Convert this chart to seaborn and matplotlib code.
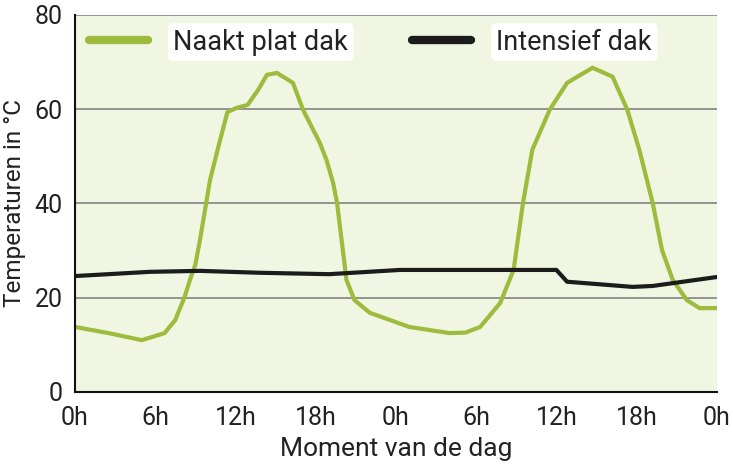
import matplotlib
matplotlib.use("Agg")
import matplotlib.pyplot as plt
import seaborn as sns
import numpy as np
import pandas as pd

# green curve: bare flat roof (hours, degC)
naakt_uur = [0, 2.5, 5.0, 6.7, 7.5, 8.2, 8.6, 9.0, 9.35, 10.1, 10.8, 11.4, 12.1, 12.9,
             13.7, 14.35, 15.1, 16.3, 17.05, 18.3, 18.8, 19.3, 19.6, 20.0, 20.3, 20.9,
             22.05, 25.0, 28.0, 29.2, 30.3, 31.8, 32.8, 33.5, 34.2, 35.5, 36.8, 38.7,
             40.2, 41.3, 42.2, 43.2, 43.9, 44.7, 45.75, 46.7, 48.0]
naakt_temp = [13.8, 12.5, 11.0, 12.5, 15.3, 20.2, 23.8, 27.0, 32.3, 45.0, 52.9, 59.4, 60.3, 60.9,
              64.1, 67.3, 67.7, 65.6, 59.9, 52.9, 49.3, 44.4, 40.1, 30.8, 23.8, 19.5,
              16.8, 13.8, 12.5, 12.6, 13.8, 18.9, 25.9, 40.1, 51.4, 59.9, 65.6, 68.8,
              66.9, 59.9, 51.4, 40.1, 30.1, 23.8, 19.5, 17.8, 17.8]

# black curve: intensive green roof
intensief_uur = [0, 5.6, 9.35, 13.8, 19.0, 24.3, 30.3, 36.0, 36.8, 41.7, 43.2, 48.0]
intensief_temp = [24.6, 25.5, 25.7, 25.3, 25.0, 25.9, 25.9, 25.9, 23.4, 22.3, 22.5, 24.4]

tick_pos = [0, 6, 12, 18, 24, 30, 36, 42, 48]
tick_labels = ["0h", "6h", "12h", "18h", "0h", "6h", "12h", "18h", "0h"]

df = pd.concat([
    pd.DataFrame({"uur": naakt_uur, "temp": naakt_temp, "serie": "Naakt plat dak"}),
    pd.DataFrame({"uur": intensief_uur, "temp": intensief_temp, "serie": "Intensief dak"}),
])

sns.set_style("white")
plt.rcParams["font.family"] = ["Roboto", "DejaVu Sans"]

fig = plt.figure(figsize=(7.33, 4.68), dpi=100)
ax = fig.add_axes([0.1023, 0.1624, 0.8757, 0.8056])
ax.set_facecolor("#f1f6e2")

sns.lineplot(data=df, x="uur", y="temp", hue="serie", sort=False,
             palette={"Naakt plat dak": "#9dbb3c", "Intensief dak": "#1c1c1c"},
             linewidth=3, ax=ax, solid_capstyle="round", solid_joinstyle="round")

for y in [20, 40, 60, 80]:
    ax.axhline(y, color="#8c8c8c", linewidth=1.3, zorder=0.5)

ax.set_xlim(0, 48)
ax.set_ylim(0, 80)
ax.set_xticks(tick_pos)
ax.set_xticklabels(tick_labels)
ax.set_yticks([0, 20, 40, 60, 80])
ax.tick_params(axis="both", length=0, labelsize=18, colors="#222222")
ax.tick_params(axis="x", pad=10)
ax.tick_params(axis="y", pad=9)
ax.set_xlabel("Moment van de dag", fontsize=19, color="#222222", labelpad=5)
ax.set_ylabel("Temperaturen in °C", fontsize=17.5, color="#222222", labelpad=6)

for side in ["top", "right"]:
    ax.spines[side].set_visible(False)
for side in ["left", "bottom"]:
    ax.spines[side].set_color("#111111")
    ax.spines[side].set_linewidth(1.5)

leg = ax.legend(loc="upper left", bbox_to_anchor=(0.0, 1.0), ncol=2, frameon=False,
                fontsize=19.5, handlelength=2.2, columnspacing=2.35, handletextpad=0.93,
                borderaxespad=0.1)
for line in leg.get_lines():
    line.set_linewidth(6)
    line.set_solid_capstyle("round")
for t in leg.get_texts():
    t.set_color("#222222")
    t.set_bbox(dict(boxstyle="round,pad=0.2", fc="white", ec="none"))

fig.savefig("out.png", dpi=100)
